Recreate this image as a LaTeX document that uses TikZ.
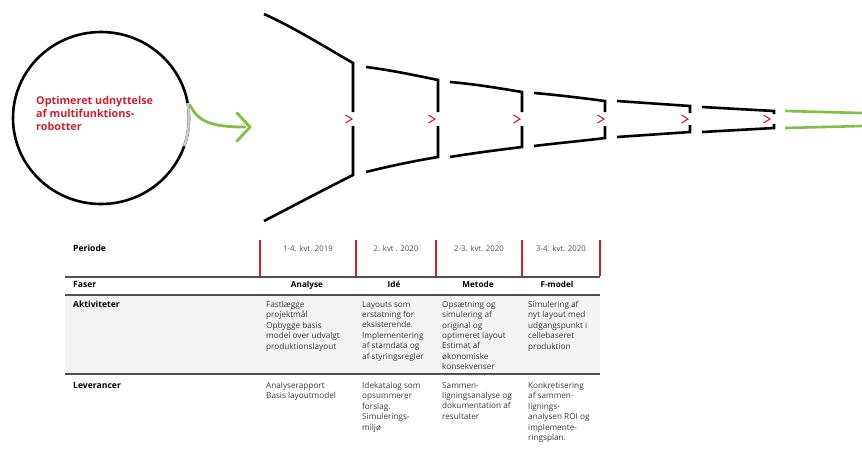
\documentclass[tikz,border=0pt]{standalone}
\usepackage{fontspec}
\setmainfont{Open Sans}
\definecolor{fred}{HTML}{D0202E}
\definecolor{fgreen}{HTML}{7DC242}
\definecolor{rule}{HTML}{505050}
\definecolor{rowbg}{HTML}{F4F4F4}
\definecolor{body}{HTML}{3A3A3A}
\begin{document}
\begin{tikzpicture}[x=1pt,y=-1pt,
  funnel/.style={line width=2.6pt,black},
  chev/.style={line width=1.1pt,fred},
  green/.style={line width=2.8pt,fgreen,line cap=round},
  tline/.style={line width=1.6pt,rule},
  redline/.style={line width=1.2pt,fred},
  lab/.style={anchor=base west,inner sep=0pt,font=\fontsize{8.6}{10}\selectfont\bfseries,text=black},
  hdr/.style={anchor=base,inner sep=0pt,font=\fontsize{8.2}{10}\selectfont\bfseries,text=black},
  per/.style={anchor=base,inner sep=0pt,font=\fontsize{7.8}{10}\selectfont,text=rule},
  cell/.style={anchor=north west,inner sep=0pt,align=left,font=\fontsize{8.2}{10.4}\selectfont,text=body}]
\useasboundingbox (0,0) rectangle (862,448);

% circle
\draw[line width=2.6pt] (101,118) ellipse [x radius=88, y radius=86];
\draw[line width=2.6pt,black!22] ([shift={(-10:88 and 86)}]101,118) arc [start angle=-10,end angle=19,x radius=88,y radius=86];
\node[anchor=north west,inner sep=0pt,align=left,text=fred,font=\fontsize{10.8}{12.8}\selectfont\bfseries] (goal) at (36,96) {Optimeret udnyttelse\\af multifunktions-\\robotter};

% green arrow
\coordinate (gs) at (190,105);
\coordinate (ge) at (245,127);
\draw[green] (gs) .. controls (198,122) and (212,127) .. (ge);
\draw[green] (237,113) -- (250,127) -- (237,141);

% funnel sections
\draw[funnel] (264,14) .. controls (295,28) and (325,47) .. (353,63) -- (353,112);
\draw[funnel] (353,126) -- (353,175) .. controls (325,189) and (295,205) .. (264,221);
\draw[funnel] (366,67) .. controls (390,70) and (414,75) .. (438,80) -- (438,112);
\draw[funnel] (438,126) -- (438,157) .. controls (414,161) and (390,166) .. (366,172);
\draw[funnel] (450,82) .. controls (474,84) and (498,88) .. (522,92) -- (522,112);
\draw[funnel] (522,126) -- (522,147) .. controls (498,150) and (474,153) .. (450,157);
\draw[funnel] (534,93) .. controls (558,95) and (582,98) .. (605,101) -- (605,112);
\draw[funnel] (605,126) -- (605,138) .. controls (582,141) and (558,143) .. (534,146);
\draw[funnel] (617,101) -- (690,106) -- (690,113);
\draw[funnel] (690,125) -- (690,132) -- (617,137);
\draw[funnel] (702,107) -- (774,111) -- (774,114);
\draw[funnel] (774,124) -- (774,128) -- (702,132);

% red chevrons
\foreach \x in {349,432,517,601,685,767}{
  \draw[chev] (\x-3.5,115) -- (\x+3,119) -- (\x-3.5,123);
}

% green outlet
\draw[line width=2.6pt,fgreen] (785,111) -- (862,113);
\draw[line width=2.6pt,fgreen] (785,128) -- (862,126);

% table
\fill[rowbg] (65,296) rectangle (600,374);
\foreach \x in {260,356,436,522,600}{
  \draw[redline] (\x,240) -- (\x,276);
}
\draw[tline] (65,277) -- (600,277);
\draw[tline] (65,295) -- (600,295);
\draw[tline] (65,374) -- (600,374);

\node[lab] (lper) at (73,251) {Periode};
\node[lab] (lfas) at (73,287) {Faser};
\node[lab] (lakt) at (73,307) {Aktiviteter};
\node[lab] (llev) at (73,388) {Leverancer};

\node[per] (p1) at (308,251) {1-4. kvt. 2019};
\node[per] (p2) at (396,251) {2. kvt . 2020};
\node[per] (p3) at (479,251) {2-3. kvt. 2020};
\node[per] (p4) at (561,251) {3-4. kvt. 2020};

\node[hdr] (h1) at (307,287) {Analyse};
\node[hdr] (h2) at (394,287) {Idé};
\node[hdr] (h3) at (478,287) {Metode};
\node[hdr] (h4) at (557,287) {F-model};

\node[cell] (a1) at (266,301) {Fastlægge\\projektmål\\Opbygge basis\\model over udvalgt\\produktionslayout};
\node[cell] (a2) at (362,301) {Layouts som\\erstatning for\\eksisterende.\\Implementering\\af stamdata og\\af styringsregler};
\node[cell] (a3) at (442,301) {Opsætning og\\simulering af\\original og\\optimeret layout\\Estimat af\\økonomiske\\konsekvenser};
\node[cell] (a4) at (528,301) {Simulering af\\nyt layout med\\udgangspunkt i\\cellebaseret\\produktion};

\node[cell] (l1) at (266,382) {Analyserapport\\Basis layoutmodel};
\node[cell] (l2) at (362,382) {Idekatalog som\\opsummerer\\forslag.\\Simulerings-\\miljø};
\node[cell] (l3) at (442,382) {Sammen-\\ligningsanalyse og\\dokumentation af\\resultater};
\node[cell] (l4) at (528,382) {Konkretisering\\af sammen-\\lignings-\\analysen ROI og\\implemente-\\ringsplan.};
\end{tikzpicture}
\end{document}
